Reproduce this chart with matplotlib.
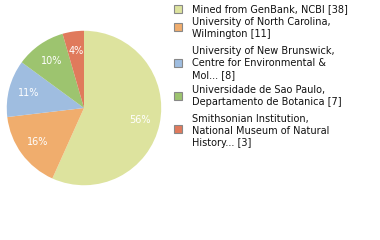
import numpy as np
import matplotlib.pyplot as plt
from matplotlib.patches import Rectangle

# Data
labels = ['Mined from GenBank, NCBI [38]',
          'University of North Carolina,\nWilmington [11]',
          'University of New Brunswick,\nCentre for Environmental &\nMol... [8]',
          'Universidade de Sao Paulo,\nDepartamento de Botanica [7]',
          'Smithsonian Institution,\nNational Museum of Natural\nHistory... [3]']
counts = [38, 11, 8, 7, 3]
colors = ['#dde39e', '#f0ad6d', '#9fbde0', '#9dc46f', '#e07a5c']

total = sum(counts)
pcts = [int(np.floor(c * 100.0 / total)) for c in counts]

fig = plt.figure(figsize=(3.8, 2.4), dpi=100)
ax = fig.add_axes([6 / 380, (240 - 186) / 240, 156 / 380, 156 / 240])
wedges, _ = ax.pie(counts, colors=colors, startangle=90, counterclock=False,
                   wedgeprops=dict(linewidth=0))
ax.set_aspect('equal')
ax.set_xlim(-1.01, 1.01)
ax.set_ylim(-1.01, 1.01)

# percentage labels
for w, p in zip(wedges, pcts):
    ang = np.deg2rad((w.theta1 + w.theta2) / 2)
    r = 0.74
    ax.text(r * np.cos(ang), r * np.sin(ang), '%d%%' % p, color='white',
            ha='center', va='center', fontsize=7)

# legend drawn by hand
square_y = [9, 27, 63, 96, 129]
first_line = [9, 22, 51, 90, 119]
for lab, col, sy, ty in zip(labels, colors, square_y, first_line):
    fig.patches.append(Rectangle((174 / 380, 1 - (sy + 4) / 240), 8 / 380, 8 / 240,
                                 transform=fig.transFigure, facecolor=col,
                                 edgecolor='#888888', linewidth=0.8))
    for i, line in enumerate(lab.split('\n')):
        fig.text(192 / 380, 1 - (ty + i * 12.2) / 240, line, fontsize=7,
                 color='#111111', va='center', ha='left')

plt.savefig('out.png', dpi=100)
